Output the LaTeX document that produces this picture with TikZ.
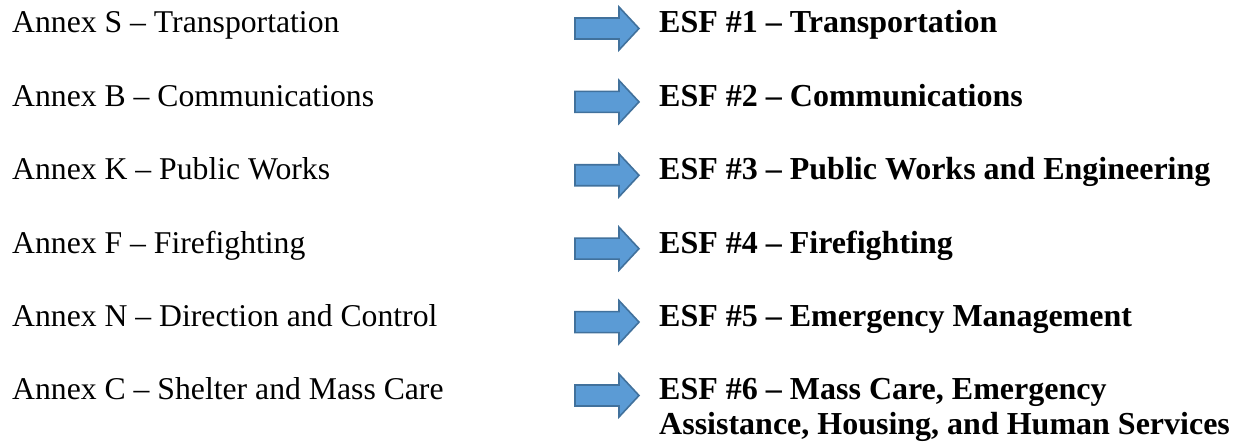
\documentclass[tikz,border=0pt]{standalone}
\usepackage{fontspec}
\setmainfont{Liberation Serif}
\definecolor{arrfill}{HTML}{5B9BD5}
\definecolor{arrline}{HTML}{41719C}
\tikzset{
  annex/.style={anchor=base west, inner sep=0pt, font=\fontsize{31.7}{35}\selectfont},
  esf/.style={anchor=base west, inner sep=0pt, align=left, font=\fontsize{32}{35}\selectfont\bfseries},
  blockarrow/.style={draw=arrline, fill=arrfill, line width=1.6pt, line join=miter}
}
\newcommand{\blockarrowat}[1]{%
  \coordinate (#1) at (607,\ya);
  \draw[blockarrow] ([shift={(-32,-10.5)}]#1) -- ++(44,0) -- ++(0,-11) -- ([shift={(32,0)}]#1)
    -- ([shift={(12,21.5)}]#1) -- ++(0,-11) -- ++(-44,0) -- cycle;}
\begin{document}
\begin{tikzpicture}[x=1pt,y=1pt]
\useasboundingbox (0,0) rectangle (1239,446);
\foreach \i/\a/\e in {
  0/{Annex S – Transportation}/{ESF \#1 – Transportation},
  1/{Annex B – Communications}/{ESF \#2 – Communications},
  2/{Annex K – Public Works}/{ESF \#3 – Public Works and Engineering},
  3/{Annex F – Firefighting}/{ESF \#4 – Firefighting},
  4/{Annex N – Direction and Control}/{ESF \#5 – Emergency Management}}{
  \pgfmathsetmacro{\yb}{446-33-73.4*\i}
  \pgfmathsetmacro{\ya}{\yb+4.5}
  \node[annex] (annex\i) at (12,\yb) {\a};
  \blockarrowat{arrow\i}
  \node[esf] (esf\i) at (659,\yb) {\e};
}
\node[annex] (annex5) at (12,46) {Annex C – Shelter and Mass Care};
\def\ya{50.5}
\blockarrowat{arrow5}
\node[esf] (esf5) at (659,11) {ESF \#6 – Mass Care, Emergency\\Assistance, Housing, and Human Services};
\end{tikzpicture}
\end{document}
